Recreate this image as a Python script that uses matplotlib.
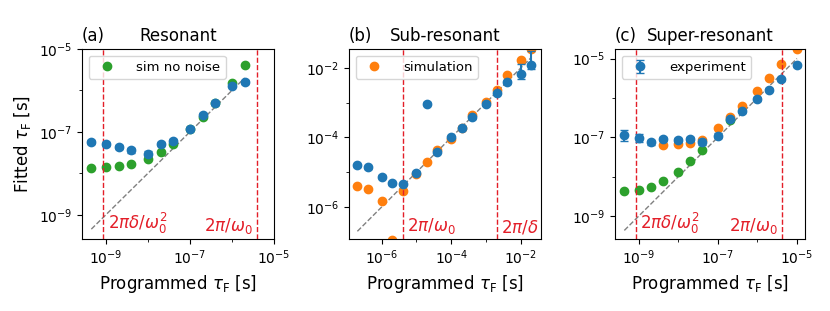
import numpy as np
import matplotlib
matplotlib.use('Agg')
import matplotlib.pyplot as plt
from matplotlib import ticker

# ---- (a) Resonant ----
a_x = [4.5e-10, 1e-9, 2e-9, 4e-9, 1e-8, 2e-8, 4e-8, 1e-7, 2e-7, 4e-7, 1e-6, 2e-6]
a_exp = [5.7e-8, 5.0e-8, 4.3e-8, 3.6e-8, 3.0e-8, 5.2e-8, 6.0e-8, 1.2e-7, 2.6e-7, 5.0e-7, 1.3e-6, 1.6e-6]
a_exp_dlog = [0.06, 0.05, 0.05, 0.06, 0.07, 0.05, 0.05, 0.04, 0.04, 0.04, 0.04, 0.04]
a_nonoise = [1.35e-8, 1.4e-8, 1.5e-8, 1.65e-8, 2.2e-8, 3.2e-8, 5.0e-8, 1.16e-7, 2.3e-7, 5.0e-7, 1.5e-6, 4.0e-6]
a_lines = [8.7e-10, 3.9e-6]

# ---- (b) Sub-resonant ----
b_x = [2e-7, 4e-7, 1e-6, 2e-6, 4e-6, 1e-5, 2e-5, 4e-5, 1e-4, 2e-4, 4e-4, 1e-3, 2e-3, 4e-3, 1e-2, 2e-2]
b_exp = [1.6e-5, 1.4e-5, 7.4e-6, 4.8e-6, 4.6e-6, 9.5e-6, 9.3e-4, 3.9e-5, 1.0e-4, 1.9e-4,
         3.8e-4, 9.3e-4, 1.9e-3, 4.0e-3, 6.9e-3, 1.25e-2]
b_exp_lo = [0.04, 0.04, 0.04, 0.04, 0.04, 0.04, 0.04, 0.04, 0.04, 0.04,
            0.04, 0.04, 0.04, 0.06, 0.16, 0.13]
b_exp_hi = [0.04, 0.04, 0.04, 0.04, 0.04, 0.04, 0.04, 0.04, 0.04, 0.04,
            0.04, 0.04, 0.04, 0.06, 0.27, 0.38]
b_sim = [4.1e-6, 3.4e-6, 1.5e-6, 1.1e-7, 2.9e-6, 9.0e-6, 1.95e-5, 4.3e-5, 9.1e-5, 1.9e-4,
         4.4e-4, 1.02e-3, 2.3e-3, 6.2e-3, 1.7e-2, 3.5e-2]
b_lines = [4e-6, 2e-3]

# ---- (c) Super-resonant ----
c_x = [4.3e-10, 1e-9, 2e-9, 4e-9, 1e-8, 2e-8, 4e-8, 1e-7, 2e-7, 4e-7, 1e-6, 2e-6, 4e-6, 1e-5]
c_exp = [1.14e-7, 9.8e-8, 7.4e-8, 9.0e-8, 8.4e-8, 9.0e-8, 7.6e-8, 1.1e-7, 2.9e-7, 4.6e-7,
         9.4e-7, 1.6e-6, 3.0e-6, 6.7e-6]
c_exp_dlog = [0.14, 0.1, 0.07, 0.06, 0.05, 0.05, 0.08, 0.06, 0.04, 0.04, 0.04, 0.04, 0.04, 0.04]
c_sim_x = [4e-9, 1e-8, 2e-8, 4e-8, 1e-7, 2e-7, 4e-7, 1e-6, 2e-6, 4e-6, 1e-5]
c_sim = [6.5e-8, 6.8e-8, 7.3e-8, 8.5e-8, 1.7e-7, 3.2e-7, 6.3e-7, 1.5e-6, 3.2e-6, 7.1e-6, 1.7e-5]
c_nonoise_x = [4.3e-10, 1e-9, 2e-9, 4e-9, 1e-8, 2e-8, 4e-8, 2e-7]
c_nonoise = [4.2e-9, 4.6e-9, 5.4e-9, 7.6e-9, 1.34e-8, 2.5e-8, 4.7e-8, 2.75e-7]
c_lines = [8.5e-10, 4.2e-6]

RED = '#e31e28'
MS = 6


def yerr_from_dlog(y, lo, hi):
    y = np.asarray(y)
    return [y - y / 10**np.asarray(lo), y * 10**np.asarray(hi) - y]


def setup_axis(ax, xlim, ylim, xmaj, xmin, ymaj, ymin):
    ax.set_xscale('log')
    ax.set_yscale('log')
    ax.set_xlim(*xlim)
    ax.set_ylim(*ylim)
    ax.xaxis.set_major_locator(ticker.FixedLocator(xmaj))
    ax.xaxis.set_minor_locator(ticker.FixedLocator(xmin))
    ax.yaxis.set_major_locator(ticker.FixedLocator(ymaj))
    ax.yaxis.set_minor_locator(ticker.FixedLocator(ymin))
    ax.xaxis.set_major_formatter(ticker.LogFormatterSciNotation())
    ax.yaxis.set_major_formatter(ticker.LogFormatterSciNotation())
    ax.xaxis.set_minor_formatter(ticker.NullFormatter())
    ax.yaxis.set_minor_formatter(ticker.NullFormatter())
    ax.tick_params(labelsize=10)
    ax.set_xlabel(r'Programmed $\tau_\mathrm{F}$ [s]', fontsize=12)


def vline(ax, x, label, side):
    ax.axvline(x, color=RED, ls='--', lw=1)
    off = 3 if side == 'right' else -3
    ha = 'left' if side == 'right' else 'right'
    ax.annotate(label, xy=(x, 0.015), xycoords=('data', 'axes fraction'),
                xytext=(off, 0), textcoords='offset points',
                ha=ha, va='bottom', color=RED, fontsize=12)


def diag(ax, x):
    xs = [min(x), max(x)]
    ax.plot(xs, xs, color='gray', ls='--', lw=1, zorder=1)


def add_legend(ax):
    ax.legend(loc='upper left', fontsize=9.5, handletextpad=1.2)


fig = plt.figure(figsize=(8.3, 3.11), dpi=100)
axa = fig.add_axes([0.0988, 0.2315, 0.2313, 0.611])
axb = fig.add_axes([0.4205, 0.2315, 0.2313, 0.611])
axc = fig.add_axes([0.741, 0.2315, 0.2289, 0.611])

# (a)
diag(axa, a_x)
axa.plot(a_x, a_nonoise, 'o', color='C2', ms=MS, label='sim no noise', zorder=2)
axa.errorbar(a_x, a_exp, yerr=yerr_from_dlog(a_exp, a_exp_dlog, a_exp_dlog),
             fmt='o', color='C0', ms=MS, capsize=3, zorder=3)
vline(axa, a_lines[0], r'$2\pi\delta/\omega_0^2$', 'right')
vline(axa, a_lines[1], r'$2\pi/\omega_0$', 'left')
setup_axis(axa, (2.7e-10, 1e-5), (2.6e-10, 1e-5),
           [1e-9, 1e-7, 1e-5], [1e-8, 1e-6], [1e-9, 1e-7, 1e-5], [1e-8, 1e-6])
axa.set_ylabel(r'Fitted $\tau_\mathrm{F}$ [s]', fontsize=12)
axa.set_title('(a)', loc='left', fontsize=12)
axa.set_title('Resonant', fontsize=12)
add_legend(axa)

# (b)
diag(axb, b_x)
axb.plot(b_x, b_sim, 'o', color='C1', ms=MS, label='simulation', zorder=2)
axb.errorbar(b_x, b_exp, yerr=yerr_from_dlog(b_exp, b_exp_lo, b_exp_hi),
             fmt='o', color='C0', ms=MS, capsize=3, zorder=3)
vline(axb, b_lines[0], r'$2\pi/\omega_0$', 'right')
vline(axb, b_lines[1], r'$2\pi/\delta$', 'right')
setup_axis(axb, (1.15e-7, 3.8e-2), (1.2e-7, 3.5e-2),
           [1e-6, 1e-4, 1e-2], [1e-7, 1e-5, 1e-3], [1e-6, 1e-4, 1e-2], [1e-7, 1e-5, 1e-3])
axb.set_title('(b)', loc='left', fontsize=12)
axb.set_title('Sub-resonant', fontsize=12)
add_legend(axb)

# (c)
diag(axc, c_x)
axc.plot(c_nonoise_x, c_nonoise, 'o', color='C2', ms=MS, zorder=2)
axc.plot(c_sim_x, c_sim, 'o', color='C1', ms=MS, zorder=2)
axc.errorbar(c_x, c_exp, yerr=yerr_from_dlog(c_exp, c_exp_dlog, c_exp_dlog),
             fmt='o', color='C0', ms=MS, capsize=3, zorder=3, label='experiment')
vline(axc, c_lines[0], r'$2\pi\delta/\omega_0^2$', 'right')
vline(axc, c_lines[1], r'$2\pi/\omega_0$', 'left')
setup_axis(axc, (2.5e-10, 1.6e-5), (2.6e-10, 1.75e-5),
           [1e-9, 1e-7, 1e-5], [1e-8, 1e-6], [1e-9, 1e-7, 1e-5], [1e-8, 1e-6])
axc.set_title('(c)', loc='left', fontsize=12)
axc.set_title('Super-resonant', fontsize=12)
add_legend(axc)

fig.savefig('out.png', dpi=100)
